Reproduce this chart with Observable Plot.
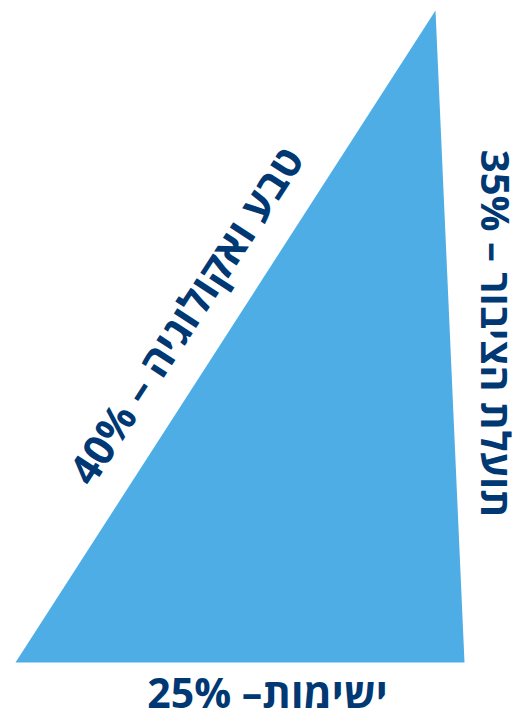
<!DOCTYPE html>
<html><head><meta charset="utf-8">
<script src="https://cdn.jsdelivr.net/npm/d3@7"></script>
<script src="https://cdn.jsdelivr.net/npm/@observablehq/plot@0.6"></script>
<style>
html,body{margin:0;padding:0;background:#fff;}
svg text{direction:rtl;unicode-bidi:embed;}
</style>
</head><body>
<div id="chart"></div>
<script>
// Triangle corners (in chart units) and the weighting labels
const cornerX = [15, 464, 435, 15];
const cornerY = [662, 662, 10, 662];
const criteria = ["טבע ואקולוגיה", "תועלת הציבור", "ישימות"];
const weights = [40, 35, 25];
const labelText = [
  `${criteria[0]} – ${weights[0]}%`,
  `${criteria[1]} – ${weights[1]}%`,
  `${criteria[2]}– ${weights[2]}%`
];
const labelX = [187, 493, 267];
const labelY = [316, 333, 694];
const labelRotate = [-57, 90, 0];
const labelSize = [42, 40, 41];

const corners = cornerX.map((x, i) => ({x, y: cornerY[i]}));
const labels = labelText.map((t, i) => ({t, x: labelX[i], y: labelY[i], r: labelRotate[i], s: labelSize[i]}));

const chart = Plot.plot({
  width: 524, height: 718,
  margin: 0,
  x: {domain: [0, 524], range: [0, 524], axis: null},
  y: {domain: [0, 718], range: [0, 718], axis: null},
  style: {fontFamily: "'Open Sans', 'DejaVu Sans', sans-serif", background: "#fff"},
  marks: [
    Plot.line(corners, {x: "x", y: "y", fill: "#4FADE5", stroke: "none", curve: "linear"}),
    ...labels.map(d => Plot.text([d], {
      x: "x", y: "y", text: "t", rotate: d.r,
      fontSize: d.s, fontWeight: "bold", fill: "#003873",
      textAnchor: "middle", lineAnchor: "middle"
    }))
  ]
});
document.getElementById("chart").appendChild(chart);
</script>
</body></html>
